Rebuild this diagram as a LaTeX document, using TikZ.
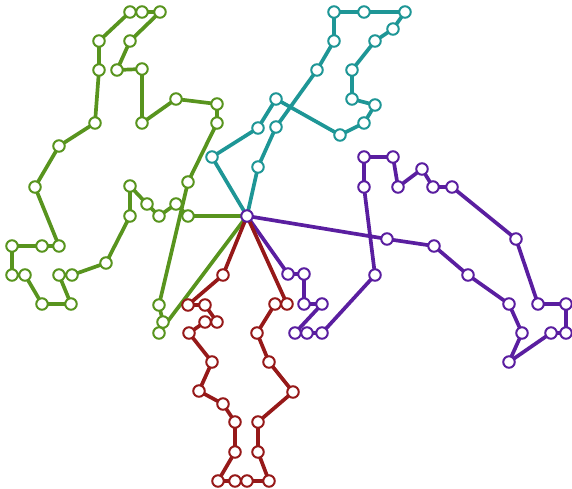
\documentclass[tikz,border=0pt]{standalone}
\usetikzlibrary{backgrounds}
\definecolor{cg}{RGB}{88,148,30}
\definecolor{ct}{RGB}{30,150,150}
\definecolor{cr}{RGB}{150,25,25}
\definecolor{cp}{RGB}{90,30,160}
\tikzset{
  stop/.style={circle,draw=#1,fill=white,line width=2pt,minimum size=11.5pt,inner sep=0pt},
  route/.style={draw=#1,line width=3.7pt,line join=round,line cap=round},
}
\begin{document}
\begin{tikzpicture}[x=1pt,y=-1pt]
\useasboundingbox (0,0) rectangle (572,488);
% depot
\node[stop=cp] (d) at (247,216) {};
% green
\foreach \n/\x/\y in {1/188/216,2/176/204,3/159/216,4/147/204,5/130/186,6/130/216,7/106/263,8/72/275,9/59/275,10/71/304,11/42/304,12/25/275,13/12/275,14/12/246,15/42/246,16/59/246,17/35/187,18/59/146,19/95/123,20/99/70,21/99/41,22/130/12,23/142/12,24/160/12,25/130/41,26/117/70,27/142/69,28/142/123,29/176/99,30/217/104,31/217/123,32/188/182,33/159/305,34/163/322,35/159/333}
  \node[stop=cg] (g\n) at (\x,\y) {};
% teal
\foreach \n/\x/\y in {1/212/157,2/258/128,3/276/99,4/340/135,5/364/123,6/375/105,7/352/99,8/352/70,9/375/41,10/393/29,11/405/12,12/364/12,13/334/12,14/334/41,15/317/70,16/276/127,17/258/167}
  \node[stop=ct] (t\n) at (\x,\y) {};
% purple
\foreach \n/\x/\y in {1/387/239,2/434/246,3/468/275,4/509/304,5/522/333,6/509/362,7/551/333,8/566/333,9/566/304,10/538/304,11/516/239,12/452/187,13/433/187,14/422/169,15/398/187,16/393/157,17/364/157,18/364/187,19/375/275,20/322/333,21/307/333,22/295/333,23/322/304,24/304/304,25/304/274,26/288/274}
  \node[stop=cp] (p\n) at (\x,\y) {};
% red
\foreach \n/\x/\y in {1/223/275,2/188/305,3/205/305,4/217/322,5/205/322,6/189/333,7/212/362,8/199/391,9/223/404,10/235/422,11/235/452,12/218/481,13/235/481,14/247/481,15/269/481,16/258/452,17/258/422,18/293/392,19/269/362,20/257/333,21/275/304,22/287/304}
  \node[stop=cr] (r\n) at (\x,\y) {};
\begin{pgfonlayer}{background}
\draw[route=cg] (d.center)
  \foreach \i in {1,...,35} { -- (g\i.center) } -- (d.center);
\draw[route=ct] (d.center)
  \foreach \i in {1,...,17} { -- (t\i.center) } -- (d.center);
\draw[route=cp] (d.center)
  \foreach \i in {1,...,26} { -- (p\i.center) } -- (d.center);
\draw[route=cr] (d.center)
  \foreach \i in {1,...,22} { -- (r\i.center) } -- (d.center);
\end{pgfonlayer}
\end{tikzpicture}
\end{document}
